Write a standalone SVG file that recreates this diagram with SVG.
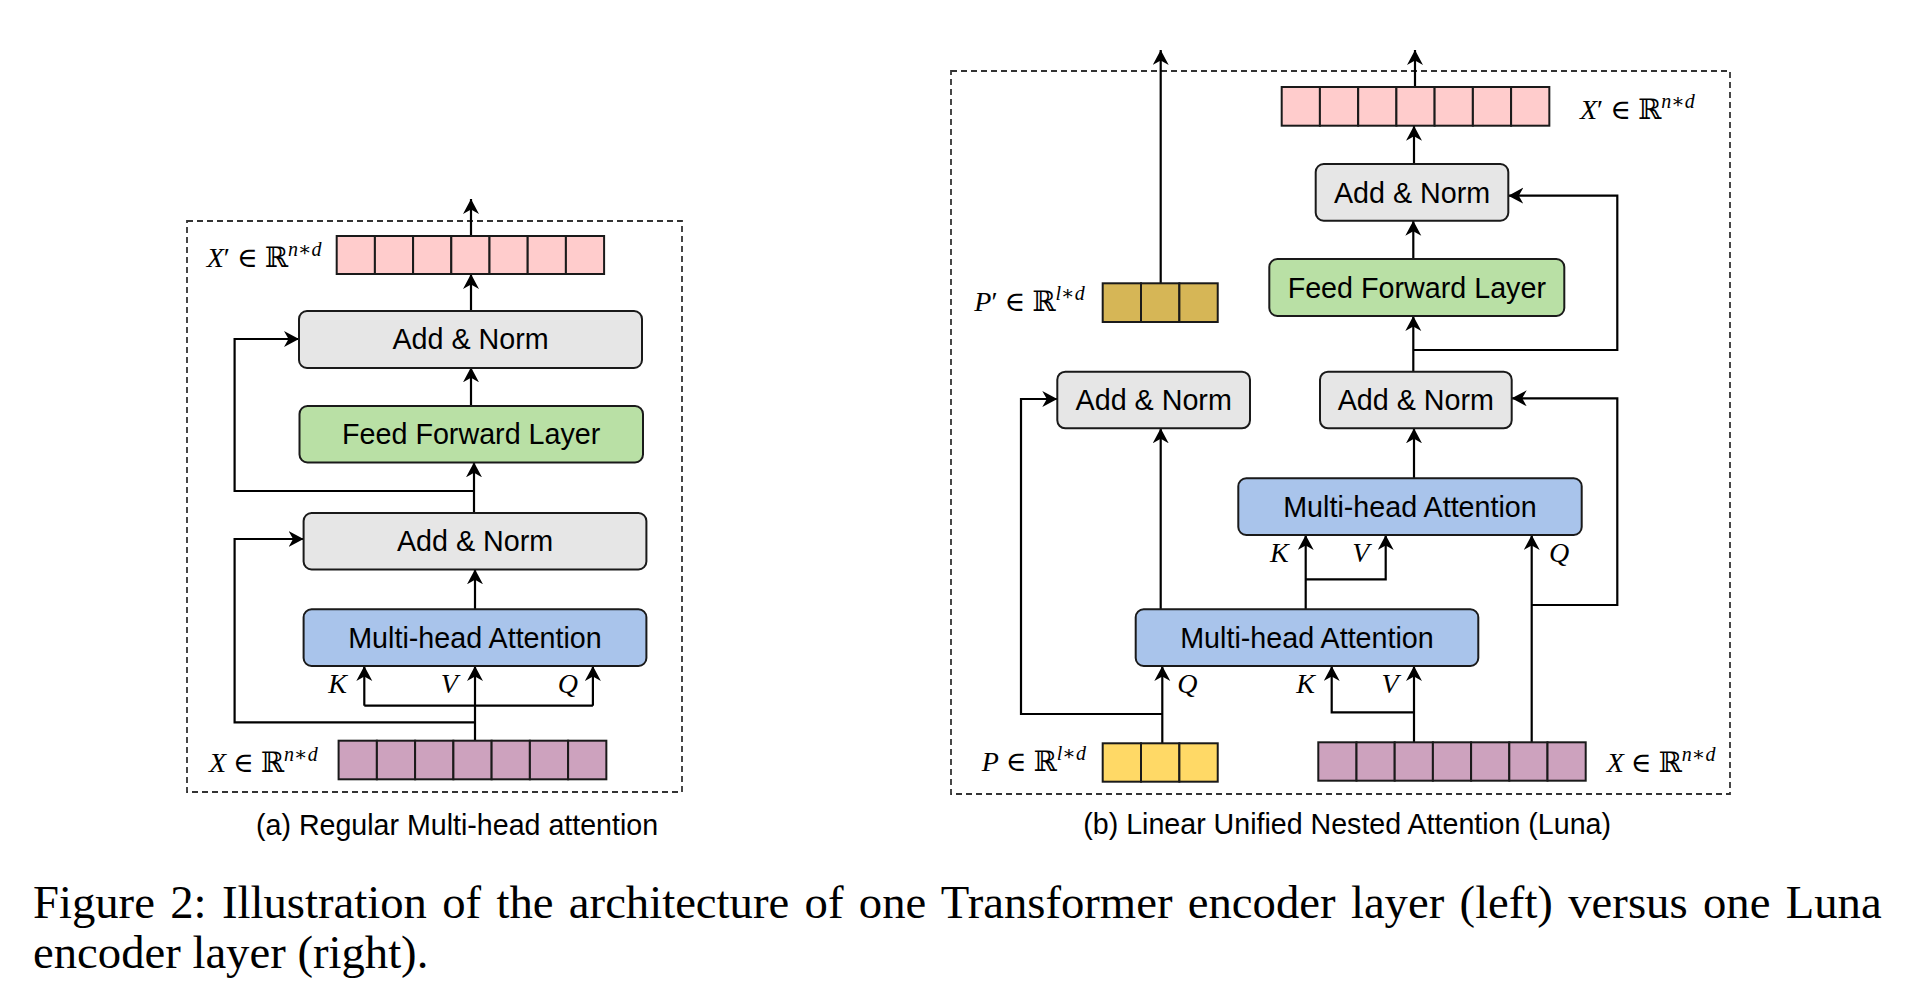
<svg xmlns="http://www.w3.org/2000/svg" width="1920" height="997" viewBox="0 0 1920 997">
<style>
.bg{fill:#ffffff}
.frame{fill:none;stroke:#333;stroke-width:1.8;stroke-dasharray:6 4}
.box{stroke:#1a1a1a;stroke-width:2}
.an{fill:#e6e6e6}
.ff{fill:#b9e0a5}
.mh{fill:#a9c4eb}
.cell{stroke:#1a1a1a;stroke-width:2}
.pk{fill:#ffcccc}
.pu{fill:#cda2be}
.ye{fill:#ffd966}
.go{fill:#d6b656}
.lbl{font-family:"Liberation Sans",Arial,sans-serif;font-size:28.7px;fill:#000;text-anchor:middle}
.cap{font-family:"Liberation Sans",Arial,sans-serif;font-size:28.6px;fill:#000}
.m{font-family:"Liberation Serif","DejaVu Serif",serif;font-size:28px;fill:#000}
.it{font-style:italic}
.sup{font-style:italic;font-size:20px}
.kvq{font-family:"Liberation Serif","DejaVu Serif",serif;font-size:28px;font-style:italic;fill:#000;text-anchor:middle}
.fig{font-family:"Liberation Serif","Times New Roman",serif;font-size:46.7px;fill:#000}
.conn path{fill:none;stroke:#000;stroke-width:2.2}
</style>
<defs>
<marker id="ah" markerUnits="userSpaceOnUse" markerWidth="18" markerHeight="18" refX="15" refY="8" orient="auto">
<path d="M0,0 L15,8 L0,16 L4.5,8 Z" fill="#000"/>
</marker>
</defs>
<rect class="bg" x="0" y="0" width="1920" height="997"/>

<!-- frames -->
<rect id="frameA" class="frame" x="187" y="221" width="495" height="571"/>
<rect id="frameB" class="frame" x="951" y="71" width="779" height="723"/>

<!-- connectors -->
<g id="connectors" class="conn">
<!-- left panel -->
<path d="M471,236 V199" marker-end="url(#ah)"/>
<path d="M471,311 V274" marker-end="url(#ah)"/>
<path d="M471,406 V367.3" marker-end="url(#ah)"/>
<path d="M474,513 V462.3" marker-end="url(#ah)"/>
<path d="M474,491 H234.6 V339 H299" marker-end="url(#ah)"/>
<path d="M475,609 V569.3" marker-end="url(#ah)"/>
<path d="M475,740.7 V666" marker-end="url(#ah)"/>
<path d="M364.3,705.7 H592.9"/>
<path d="M364.3,705.7 V666" marker-end="url(#ah)"/>
<path d="M592.9,705.7 V666" marker-end="url(#ah)"/>
<path d="M475,722.3 H234.6 V539 H303.6" marker-end="url(#ah)"/>
<!-- right panel -->
<path d="M1160.7,283.3 V50" marker-end="url(#ah)"/>
<path d="M1415,87 V50" marker-end="url(#ah)"/>
<path d="M1414,164 V125.7" marker-end="url(#ah)"/>
<path d="M1413.3,259 V220.7" marker-end="url(#ah)"/>
<path d="M1413.3,371.7 V316" marker-end="url(#ah)"/>
<path d="M1414,350 H1617.3 V195.7 H1508.3" marker-end="url(#ah)"/>
<path d="M1414,478.3 V428.3" marker-end="url(#ah)"/>
<path d="M1305.7,609.3 V535" marker-end="url(#ah)"/>
<path d="M1305.7,579.3 H1385.7 V535" marker-end="url(#ah)"/>
<path d="M1531.7,742.3 V535" marker-end="url(#ah)"/>
<path d="M1532,605 H1617.3 V398.3 H1511.7" marker-end="url(#ah)"/>
<path d="M1160.7,609.3 V428.3" marker-end="url(#ah)"/>
<path d="M1162.3,743.3 V666" marker-end="url(#ah)"/>
<path d="M1162.3,714 H1021 V399 H1057.3" marker-end="url(#ah)"/>
<path d="M1414,742.3 V666" marker-end="url(#ah)"/>
<path d="M1414,712.3 H1331.7 V666" marker-end="url(#ah)"/>
</g>

<!-- ===== left panel nodes ===== -->
<g id="a-xout">
<rect class="cell pk" x="336.7" y="236" width="38.2" height="38"/>
<rect class="cell pk" x="374.9" y="236" width="38.2" height="38"/>
<rect class="cell pk" x="413.1" y="236" width="38.2" height="38"/>
<rect class="cell pk" x="451.3" y="236" width="38.2" height="38"/>
<rect class="cell pk" x="489.5" y="236" width="38.2" height="38"/>
<rect class="cell pk" x="527.7" y="236" width="38.2" height="38"/>
<rect class="cell pk" x="565.9" y="236" width="38.2" height="38"/>
<text class="m" x="206.7" y="266.7"><tspan class="it">X</tspan>′ ∈ ℝ<tspan class="sup" dy="-11">n∗d</tspan></text>
</g>
<g id="a-addnorm2">
<rect class="box an" x="299" y="311" width="343" height="57" rx="8"/>
<text class="lbl" x="470.5" y="349.3">Add &amp; Norm</text>
</g>
<g id="a-ff">
<rect class="box ff" x="299.5" y="406" width="343.5" height="56.5" rx="8"/>
<text class="lbl" x="471.2" y="444.3">Feed Forward Layer</text>
</g>
<g id="a-addnorm1">
<rect class="box an" x="303.6" y="513" width="342.8" height="56.5" rx="8"/>
<text class="lbl" x="475" y="551.3">Add &amp; Norm</text>
</g>
<g id="a-mha">
<rect class="box mh" x="303.6" y="609.3" width="342.8" height="56.7" rx="8"/>
<text class="lbl" x="475" y="647.8">Multi-head Attention</text>
</g>
<g id="a-kvq">
<text class="kvq" x="337.5" y="693.3">K</text>
<text class="kvq" x="449.3" y="693.3">V</text>
<text class="kvq" x="567.9" y="693.3">Q</text>
</g>
<g id="a-xin">
<rect class="cell pu" x="338.6" y="740.7" width="38.25" height="38.6"/>
<rect class="cell pu" x="376.9" y="740.7" width="38.25" height="38.6"/>
<rect class="cell pu" x="415.1" y="740.7" width="38.25" height="38.6"/>
<rect class="cell pu" x="453.4" y="740.7" width="38.25" height="38.6"/>
<rect class="cell pu" x="491.6" y="740.7" width="38.25" height="38.6"/>
<rect class="cell pu" x="529.9" y="740.7" width="38.25" height="38.6"/>
<rect class="cell pu" x="568.1" y="740.7" width="38.25" height="38.6"/>
<text class="m" x="209" y="771.7"><tspan class="it">X</tspan> ∈ ℝ<tspan class="sup" dy="-11">n∗d</tspan></text>
</g>
<text id="cap-a" class="cap" x="256" y="835">(a) Regular Multi-head attention</text>

<!-- ===== right panel nodes ===== -->
<g id="b-xout">
<rect class="cell pk" x="1281.7" y="87" width="38.23" height="38.7"/>
<rect class="cell pk" x="1319.9" y="87" width="38.23" height="38.7"/>
<rect class="cell pk" x="1358.2" y="87" width="38.23" height="38.7"/>
<rect class="cell pk" x="1396.4" y="87" width="38.23" height="38.7"/>
<rect class="cell pk" x="1434.6" y="87" width="38.23" height="38.7"/>
<rect class="cell pk" x="1472.9" y="87" width="38.23" height="38.7"/>
<rect class="cell pk" x="1511.1" y="87" width="38.23" height="38.7"/>
<text class="m" x="1580" y="119"><tspan class="it">X</tspan>′ ∈ ℝ<tspan class="sup" dy="-11">n∗d</tspan></text>
</g>
<g id="b-addnorm-top">
<rect class="box an" x="1315.7" y="164" width="192.6" height="56.7" rx="8"/>
<text class="lbl" x="1412" y="202.6">Add &amp; Norm</text>
</g>
<g id="b-ff">
<rect class="box ff" x="1269.3" y="259" width="295" height="57" rx="8"/>
<text class="lbl" x="1416.8" y="297.8">Feed Forward Layer</text>
</g>
<g id="b-addnorm-x">
<rect class="box an" x="1320" y="371.7" width="191.7" height="56.6" rx="8"/>
<text class="lbl" x="1415.8" y="410.3">Add &amp; Norm</text>
</g>
<g id="b-addnorm-p">
<rect class="box an" x="1057.3" y="371.7" width="192.7" height="56.6" rx="8"/>
<text class="lbl" x="1153.7" y="410.3">Add &amp; Norm</text>
</g>
<g id="b-pout">
<rect class="cell go" x="1102.7" y="283.3" width="38.33" height="38.7"/>
<rect class="cell go" x="1141" y="283.3" width="38.33" height="38.7"/>
<rect class="cell go" x="1179.4" y="283.3" width="38.33" height="38.7"/>
<text class="m" x="974.3" y="310.7"><tspan class="it">P</tspan>′ ∈ ℝ<tspan class="sup" dy="-11">l∗d</tspan></text>
</g>
<g id="b-mha-upper">
<rect class="box mh" x="1238.3" y="478.3" width="343.4" height="56.7" rx="8"/>
<text class="lbl" x="1410" y="517">Multi-head Attention</text>
</g>
<g id="b-kvq-upper">
<text class="kvq" x="1279.3" y="561.7">K</text>
<text class="kvq" x="1360.7" y="561.7">V</text>
<text class="kvq" x="1559" y="561.7">Q</text>
</g>
<g id="b-mha-lower">
<rect class="box mh" x="1135.7" y="609.3" width="342.6" height="56.7" rx="8"/>
<text class="lbl" x="1307" y="648">Multi-head Attention</text>
</g>
<g id="b-kvq-lower">
<text class="kvq" x="1187.3" y="693.3">Q</text>
<text class="kvq" x="1305.7" y="693">K</text>
<text class="kvq" x="1390" y="693">V</text>
</g>
<g id="b-pin">
<rect class="cell ye" x="1102.7" y="743.3" width="38.33" height="38.4"/>
<rect class="cell ye" x="1141" y="743.3" width="38.33" height="38.4"/>
<rect class="cell ye" x="1179.4" y="743.3" width="38.33" height="38.4"/>
<text class="m" x="981.7" y="770.7"><tspan class="it">P</tspan> ∈ ℝ<tspan class="sup" dy="-11">l∗d</tspan></text>
</g>
<g id="b-xin">
<rect class="cell pu" x="1318.3" y="742.3" width="38.2" height="38.4"/>
<rect class="cell pu" x="1356.5" y="742.3" width="38.2" height="38.4"/>
<rect class="cell pu" x="1394.7" y="742.3" width="38.2" height="38.4"/>
<rect class="cell pu" x="1432.9" y="742.3" width="38.2" height="38.4"/>
<rect class="cell pu" x="1471.1" y="742.3" width="38.2" height="38.4"/>
<rect class="cell pu" x="1509.3" y="742.3" width="38.2" height="38.4"/>
<rect class="cell pu" x="1547.5" y="742.3" width="38.2" height="38.4"/>
<text class="m" x="1606.7" y="771.7"><tspan class="it">X</tspan> ∈ ℝ<tspan class="sup" dy="-11">n∗d</tspan></text>
</g>
<text id="cap-b" class="cap" x="1083.3" y="834.3">(b) Linear Unified Nested Attention (Luna)</text>

<!-- figure caption -->
<text id="fig-cap1" class="fig" x="33" y="918" style="word-spacing:3.7px">Figure 2: Illustration of the architecture of one Transformer encoder layer (left) versus one Luna</text>
<text id="fig-cap2" class="fig" x="33" y="968">encoder layer (right).</text>
</svg>
